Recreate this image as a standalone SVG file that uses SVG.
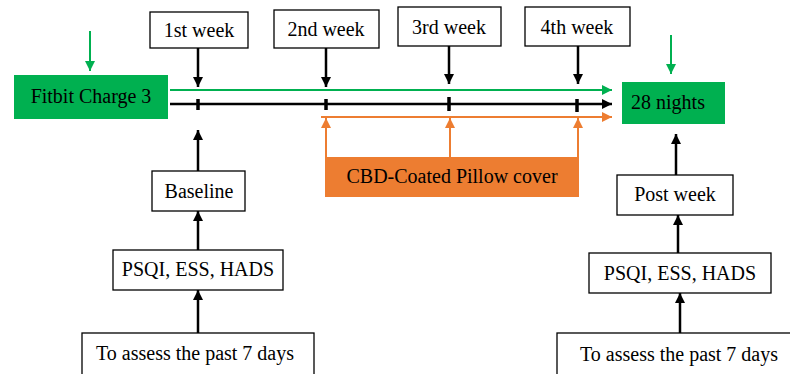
<svg xmlns="http://www.w3.org/2000/svg" width="790" height="374" viewBox="0 0 790 374">
<defs>
<marker id="ab" viewBox="0 0 10 10" refX="10" refY="5" markerWidth="4" markerHeight="4" orient="auto" markerUnits="strokeWidth"><path d="M0,0 L10,5 L0,10 z" fill="#000"/></marker>
<marker id="ag" viewBox="0 0 10 10" refX="10" refY="5" markerWidth="5" markerHeight="5" orient="auto" markerUnits="strokeWidth"><path d="M0,0 L10,5 L0,10 z" fill="#00B050"/></marker>
<marker id="ao" viewBox="0 0 10 10" refX="10" refY="5" markerWidth="5" markerHeight="5" orient="auto" markerUnits="strokeWidth"><path d="M0,0 L10,5 L0,10 z" fill="#ED7D31"/></marker>
</defs>
<style>
.box{fill:#fff;stroke:#000;stroke-width:1.3}
.gbox{fill:#00B050}
.obox{fill:#ED7D31}
text{font-family:"Liberation Serif","DejaVu Serif",serif;font-size:20px;fill:#000;text-anchor:middle;dominant-baseline:central}
.blk{stroke:#000;stroke-width:2.5;fill:none}
.grn{stroke:#00B050;stroke-width:2;fill:none}
.org{stroke:#ED7D31;stroke-width:2;fill:none}
.tick{stroke:#000;stroke-width:3.5}
</style>
<g id="fitbit"><rect class="gbox" x="14" y="75" width="154" height="44"/><text x="91" y="96">Fitbit Charge 3</text></g>
<g id="week1"><rect class="box" x="150" y="12" width="98" height="36"/><text x="199" y="30">1st week</text></g>
<g id="week2"><rect class="box" x="274" y="10" width="105" height="38"/><text x="326" y="29">2nd week</text></g>
<g id="week3"><rect class="box" x="398" y="7" width="103" height="39"/><text x="449" y="27">3rd week</text></g>
<g id="week4"><rect class="box" x="525" y="7" width="105" height="39"/><text x="577" y="27">4th week</text></g>
<g id="nights"><rect class="gbox" x="622" y="82" width="103" height="42"/><text x="668" y="102">28 nights</text></g>
<g id="cbd"><rect class="obox" x="325" y="157" width="254" height="40"/><text x="452" y="176">CBD-Coated Pillow cover</text></g>
<g id="baseline"><rect class="box" x="152" y="171" width="93" height="40"/><text x="199" y="191">Baseline</text></g>
<g id="psqi1"><rect class="box" x="113" y="250" width="170" height="40"/><text x="198" y="269">PSQI, ESS, HADS</text></g>
<g id="assess1"><rect class="box" x="82" y="333" width="232" height="50"/><text x="195" y="353">To assess the past 7 days</text></g>
<g id="post"><rect class="box" x="617" y="175" width="116" height="40"/><text x="675" y="194">Post week</text></g>
<g id="psqi2"><rect class="box" x="589" y="253" width="182" height="40"/><text x="680" y="273">PSQI, ESS, HADS</text></g>
<g id="assess2"><rect class="box" x="557" y="333" width="240" height="50"/><text x="679" y="354">To assess the past 7 days</text></g>
<g id="connectors">
<line class="grn" x1="90" y1="31" x2="90" y2="71" marker-end="url(#ag)"/>
<line class="grn" x1="671" y1="35" x2="671" y2="74" marker-end="url(#ag)"/>
<line class="grn" x1="170" y1="90" x2="612" y2="90" marker-end="url(#ag)"/>
<line class="blk" x1="170" y1="104" x2="612" y2="104" marker-end="url(#ab)"/>
<path class="org" d="M321,117 H612" marker-end="url(#ao)"/>
<line class="tick" x1="198" y1="99" x2="198" y2="110"/>
<line class="tick" x1="326" y1="99" x2="326" y2="110"/>
<line class="tick" x1="449" y1="97" x2="449" y2="111"/>
<line class="tick" x1="577" y1="99" x2="577" y2="112"/>
<line class="blk" x1="198" y1="48" x2="198" y2="87" marker-end="url(#ab)"/>
<line class="blk" x1="326" y1="48" x2="326" y2="87" marker-end="url(#ab)"/>
<line class="blk" x1="449" y1="46" x2="449" y2="84" marker-end="url(#ab)"/>
<line class="blk" x1="578" y1="46" x2="578" y2="84" marker-end="url(#ab)"/>
<line class="org" x1="326" y1="157" x2="326" y2="118" marker-end="url(#ao)"/>
<line class="org" x1="450" y1="157" x2="450" y2="118" marker-end="url(#ao)"/>
<line class="org" x1="578" y1="157" x2="578" y2="118" marker-end="url(#ao)"/>
<line class="blk" x1="198" y1="171" x2="198" y2="130" marker-end="url(#ab)"/>
<line class="blk" x1="198" y1="250" x2="198" y2="211" marker-end="url(#ab)"/>
<line class="blk" x1="198" y1="333" x2="198" y2="290" marker-end="url(#ab)"/>
<line class="blk" x1="676" y1="175" x2="676" y2="134" marker-end="url(#ab)"/>
<line class="blk" x1="678" y1="253" x2="678" y2="215" marker-end="url(#ab)"/>
<line class="blk" x1="680" y1="333" x2="680" y2="293" marker-end="url(#ab)"/>
</g>
</svg>
